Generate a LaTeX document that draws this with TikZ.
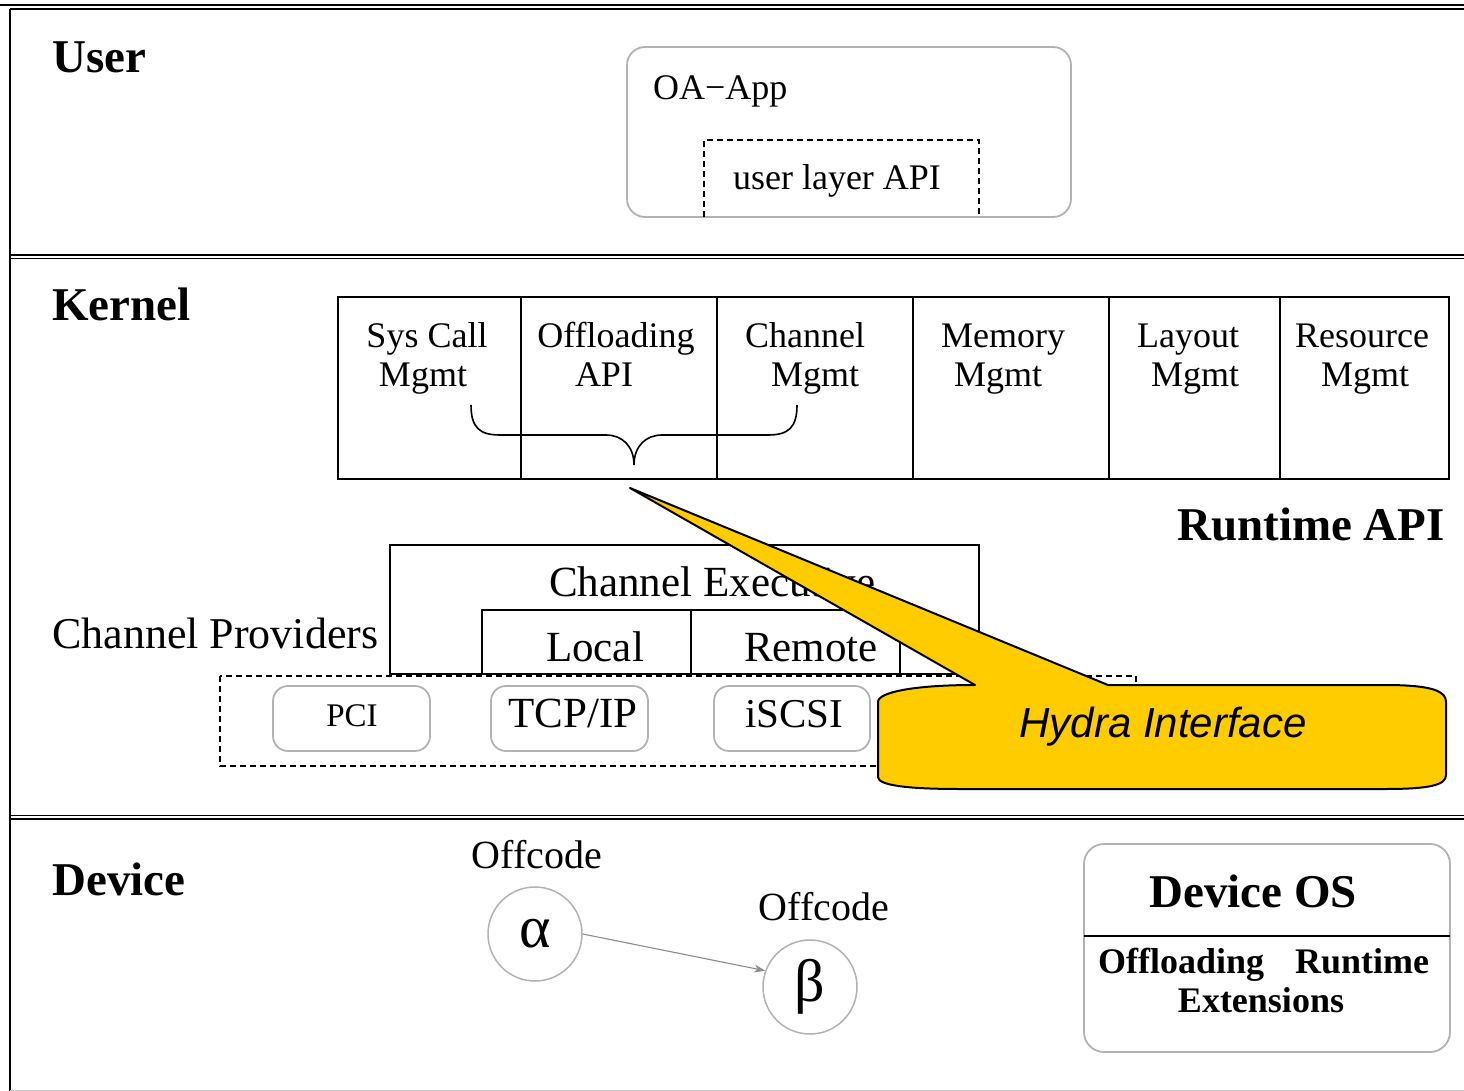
\documentclass[tikz,border=0pt]{standalone}
\usepackage{fontspec}
\setmainfont{Liberation Serif}
\setsansfont{Liberation Sans}
\usetikzlibrary{arrows.meta}
\begin{document}
\begin{tikzpicture}[x=1pt,y=-1pt,
  rule/.style={line width=1.3pt, black},
  cell/.style={draw=black, line width=1.6pt},
  soft/.style={draw=black!30, line width=1.8pt},
  dashbox/.style={draw=black, line width=1.4pt, dash pattern=on 6pt off 4pt},
  txt/.style={inner sep=0pt, anchor=base, font=\fontsize{36}{36}\selectfont},
  mid/.style={inner sep=0pt, anchor=base, font=\fontsize{43}{43}\selectfont},
  head/.style={inner sep=0pt, anchor=base west, font=\fontsize{47}{47}\selectfont\bfseries},
  bsmall/.style={inner sep=0pt, anchor=base west, font=\fontsize{36}{36}\selectfont\bfseries},
  greek/.style={circle, draw=black!30, line width=1.5pt, minimum size=94pt, inner sep=0pt,
                font=\fontsize{60}{60}\selectfont},
]
\useasboundingbox (0,0) rectangle (1464,1091);

% outer frame and layer separators
\draw[rule] (0,5) -- (1464,5);
\draw[rule] (10,9) -- (1464,9);
\draw[rule] (10,9) -- (10,1091);
\draw[rule] (10,255) -- (1464,255);
\draw[rule] (10,258.5) -- (1464,258.5);
\draw[rule] (10,815.5) -- (1464,815.5);
\draw[rule] (10,819) -- (1464,819);
\draw[black!20, line width=1pt] (10,1090) -- (1464,1090);

% layer headings
\node[head] (user) at (52,73) {User};
\node[head] (kernel) at (52,320) {Kernel};
\node[head] (device) at (52,895) {Device};
\node[head] (rtapi) at (1177,540) {Runtime API};

% user layer
\draw[soft, rounded corners=18pt] (627,47) rectangle (1071,217);
\node[txt, anchor=base west] (oaapp) at (653,100) {OA−App};
\draw[dashbox] (704,217) -- (704,140) -- (979,140) -- (979,217);
\node[txt] (ulapi) at (837,190) {user layer API};

% kernel runtime table
\draw[cell] (338,297) rectangle (1449,479);
\foreach \xx in {521,717,913,1109,1280} \draw[cell] (\xx,297) -- (\xx,479);
\node[txt] (sc1) at (427,347) {Sys Call};
\node[txt] (sc2) at (423,386) {Mgmt};
\node[txt] (of1) at (616,347) {Offloading};
\node[txt] (of2) at (604,386) {API};
\node[txt] (ch1) at (805,347) {Channel};
\node[txt] (ch2) at (815,386) {Mgmt};
\node[txt] (me1) at (1003,347) {Memory};
\node[txt] (me2) at (998,386) {Mgmt};
\node[txt] (la1) at (1188,347) {Layout};
\node[txt] (la2) at (1195,386) {Mgmt};
\node[txt] (re1) at (1362,347) {Resource};
\node[txt] (re2) at (1365,386) {Mgmt};

% brace grouping the first three cells
\draw[line width=1.6pt]
  (471,405) .. controls (471,428) and (480,435) .. (500,435) -- (606,435)
  .. controls (622,435) and (634,446) .. (634,465)
  .. controls (634,446) and (646,435) .. (662,435) -- (768,435)
  .. controls (788,435) and (797,428) .. (797,405);

% channel providers
\draw[dashbox] (220,676) rectangle (1136,766);
\draw[cell, fill=white] (390,674) rectangle (979,545);
\draw[cell] (482,674) -- (482,610) -- (900,610) -- (900,674);
\draw[cell] (691,610) -- (691,674);
\draw[cell] (390,674) -- (979,674);
\node[mid, anchor=base west] (chex) at (549,596) {Channel Executive};
\node[mid] (local) at (595,661) {Local};
\node[mid] (remote) at (811,661) {Remote};
\node[mid, anchor=base west, font=\fontsize{44}{44}\selectfont] (chprov) at (52,648) {Channel Providers};

\draw[soft, rounded corners=15pt] (273,686) rectangle (430,751);
\draw[soft, rounded corners=15pt] (491,686) rectangle (648,751);
\draw[soft, rounded corners=15pt] (714,686) rectangle (870,751);
\node[inner sep=0pt, anchor=base, font=\fontsize{33}{33}\selectfont] (pci) at (352,726) {PCI};
\node[mid] (tcp) at (573,727) {TCP/IP};
\node[mid, font=\fontsize{41}{41}\selectfont] (iscsi) at (794,727) {iSCSI};

% device layer
\node[greek] (alpha) at (535,934) {α};
\node[greek] (beta) at (810,987) {β};
\node[txt, font=\fontsize{40}{40}\selectfont] (oc1) at (537,868) {Offcode};
\node[txt, font=\fontsize{40}{40}\selectfont] (oc2) at (824,920) {Offcode};
\draw[black!45, line width=1.1pt, -{Stealth[length=11pt,width=8pt]}] (alpha.east) -- (beta.160);

\draw[soft, rounded corners=20pt] (1084,844) rectangle (1450,1052);
\draw[cell] (1084,936) -- (1450,936);
\node[head, anchor=base] (devos) at (1253,907) {Device OS};
\node[bsmall] (ext1) at (1098,973) {Offloading};
\node[bsmall] (ext2) at (1295,973) {Runtime};
\node[bsmall, anchor=base] (ext3) at (1261,1012) {Extensions};

% callout
\draw[fill={rgb,255:red,255;green,204;blue,0}, line width=2pt, line join=round]
  (878,702) .. controls (878,692) and (915,685) .. (975,685)
  -- (630,488) -- (1108,685) -- (1385,685)
  .. controls (1435,685) and (1446,692) .. (1446,702)
  -- (1446,775)
  .. controls (1446,785) and (1430,789) .. (1385,789)
  -- (960,789)
  .. controls (905,789) and (878,785) .. (878,777) -- cycle;
\node[inner sep=0pt, anchor=base, font=\fontsize{42}{42}\selectfont\sffamily\itshape] (hydra) at (1163,737) {Hydra Interface};
\end{tikzpicture}
\end{document}
